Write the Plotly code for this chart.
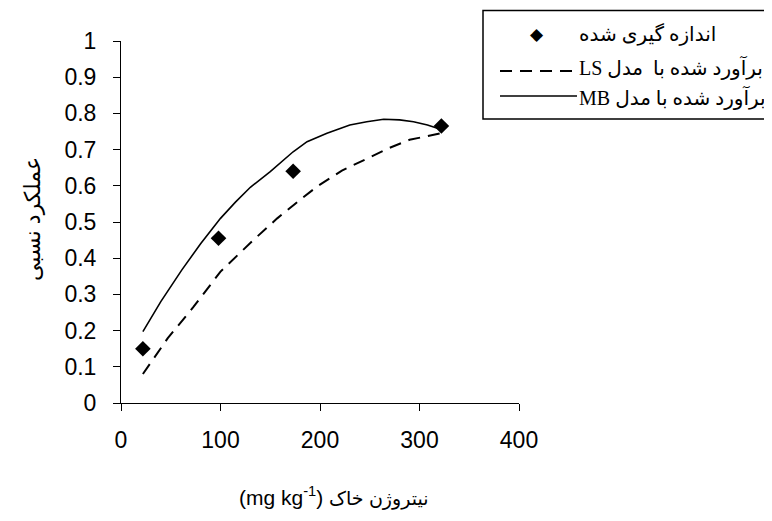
import plotly.graph_objects as go

# Measured data
meas_x = [22, 98, 173, 322]
meas_y = [0.15, 0.455, 0.64, 0.765]

# LS model (dashed)
ls_x = [22, 47, 73, 100, 133, 157, 183, 198, 222, 247, 270, 290, 321]
ls_y = [0.08, 0.179, 0.266, 0.363, 0.45, 0.51, 0.568, 0.6, 0.642, 0.676, 0.705, 0.727, 0.745]

# MB model (solid)
mb_x = [22, 40, 61, 80, 100, 115, 130, 150, 173, 187, 207, 230, 247, 264, 280, 294, 308, 321]
mb_y = [0.197, 0.28, 0.367, 0.44, 0.51, 0.555, 0.596, 0.639, 0.694, 0.722, 0.745, 0.768, 0.777, 0.784, 0.782, 0.777, 0.768, 0.756]

x_ticks = [0, 100, 200, 300, 400]
y_ticks = [0, 0.1, 0.2, 0.3, 0.4, 0.5, 0.6, 0.7, 0.8, 0.9, 1]
y_tick_labels = ["0", "0.1", "0.2", "0.3", "0.4", "0.5", "0.6", "0.7", "0.8", "0.9", "1"]

legend_labels = ["اندازه گیری شده", "LS برآورد شده با  مدل", "MB برآورد شده با مدل"]
x_title = "(mg kg<sup>-1</sup>) <span style='font-size:19px'>نیتروژن خاک</span>"
y_title = "عملکرد نسبی"

OFF = 8  # page body margin
W, H = 772 - OFF, 521 - OFF
L, R, T, B = 121 - OFF, 772 - 519, 41 - OFF, 521 - 403
PW, PH = W - L - R, H - T - B

def px(x):
    return (x - OFF - L) / PW

def py(y):
    return (H - B - (y - OFF)) / PH

fig = go.Figure()
fig.add_trace(go.Scatter(x=ls_x, y=ls_y, mode="lines",
                         line=dict(color="black", width=2, dash="12px,8px"),
                         showlegend=False, hoverinfo="skip"))
fig.add_trace(go.Scatter(x=mb_x, y=mb_y, mode="lines",
                         line=dict(color="black", width=1.6),
                         showlegend=False, hoverinfo="skip"))
fig.add_trace(go.Scatter(x=meas_x, y=meas_y, mode="markers",
                         marker=dict(symbol="diamond", size=12, color="black"),
                         showlegend=False))

tickfont = dict(family="Liberation Sans, Arial, sans-serif", size=23, color="black")
fig.update_xaxes(range=[0, 400], tickvals=x_ticks, ticks="outside", ticklen=7,
                 tickcolor="black", showline=True, linecolor="black", linewidth=1,
                 showgrid=False, zeroline=False, tickfont=tickfont,
                 ticklabelstandoff=9)
fig.update_yaxes(range=[0, 1], tickvals=y_ticks, ticktext=y_tick_labels,
                 ticks="outside", ticklen=7, tickcolor="black", showline=True,
                 linecolor="black", linewidth=1, showgrid=False, zeroline=False,
                 tickfont=tickfont, ticklabelstandoff=12)

legfont = dict(family="Liberation Serif, DejaVu Sans, serif", size=20, color="black")
titlefont = dict(family="Liberation Sans, DejaVu Sans, sans-serif", size=21, color="black")

# Manual legend (box, symbols, texts)
shapes = [
    dict(type="rect", xref="paper", yref="paper", x0=px(483), x1=px(790),
         y0=py(119), y1=py(10.5), line=dict(color="black", width=1.5), fillcolor="white", layer="above"),
    dict(type="line", xref="paper", yref="paper", x0=px(500), x1=px(577),
         y0=py(71), y1=py(71), line=dict(color="black", width=2, dash="12px,8px")),
    dict(type="line", xref="paper", yref="paper", x0=px(500), x1=px(577),
         y0=py(96), y1=py(96), line=dict(color="black", width=1.6)),
]
annotations = [
    dict(xref="paper", yref="paper", x=px(537), y=py(34), text="◆", showarrow=False,
         font=dict(family="DejaVu Sans", size=17, color="black"), xanchor="center", yanchor="middle"),
]
for lbl, yy in zip(legend_labels, [34, 67, 97]):
    annotations.append(dict(xref="paper", yref="paper", x=px(577), y=py(yy), text=lbl,
                            showarrow=False, font=legfont, xanchor="left", yanchor="middle"))
annotations.append(dict(xref="paper", yref="paper", x=px(333), y=py(497), text=x_title,
                        showarrow=False, font=titlefont, xanchor="center", yanchor="middle"))
annotations.append(dict(xref="paper", yref="paper", x=px(32), y=py(219), text=y_title,
                        showarrow=False, font=dict(titlefont, size=22), textangle=-90,
                        xanchor="center", yanchor="middle"))

fig.update_layout(width=W, height=H, margin=dict(l=L, r=R, t=T, b=B, autoexpand=False),
                  paper_bgcolor="white", plot_bgcolor="white",
                  shapes=shapes, annotations=annotations, showlegend=False)

fig.write_html("out.html")
